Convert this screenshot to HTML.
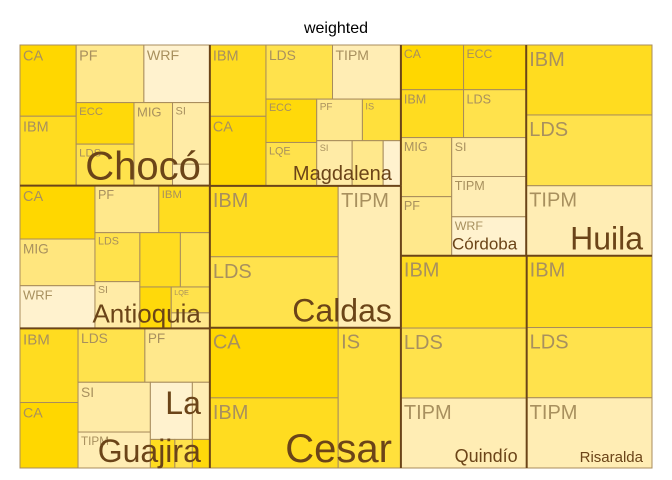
<!DOCTYPE html>
<html><head><meta charset="utf-8"><style>
html,body{margin:0;padding:0;background:#fff;}
svg{display:block;font-family:"Liberation Sans",sans-serif;}
</style></head><body>
<svg id="chart" width="672" height="480">
<text x="336" y="33" text-anchor="middle" font-size="16" fill="#000">weighted</text>
<g id="leaves"></g><g id="groups"></g><g id="glabels"></g>
</svg>
<script>
// group names (departments)
const groupNames = ["Chocó","Antioquia","La Guajira","Magdalena","Caldas","Cesar","Córdoba","Huila","Quindío","Risaralda"];
// leaf labels and values per group (values ~ weighted area)
const chocoLabels = ["CA","IBM","PF","WRF","ECC","LDS","MIG","SI",""];
const chocoValues = [40,39,39,38,24,24,32,23,8];
const antioquiaLabels = ["CA","MIG","WRF","PF","IBM","LDS","SI","","","","LQE",""];
const antioquiaValues = [40,35,32,30,24,22,21,22,16,13,10,6];
const guajiraLabels = ["IBM","CA","LDS","PF","SI","TIPM","","","","",""];
const guajiraValues = [43,38,36,35,36,26,24,10,7,5,5];
const magdalenaLabels = ["IBM","CA","LDS","TIPM","ECC","LQE","PF","IS","SI","",""];
const magdalenaValues = [40,39,36,37,22,22,19,16,16,14,8];
const caldasLabels = ["IBM","LDS","TIPM"];
const caldasValues = [91,91,89];
const cesarLabels = ["CA","IBM","IS"];
const cesarValues = [90,90,88];
const cordobaLabels = ["CA","IBM","ECC","LDS","MIG","PF","SI","TIPM","WRF"];
const cordobaValues = [28,30,28,30,30,30,29,30,29];
const huilaLabels = ["IBM","LDS","TIPM"];
const huilaValues = [88,89,88];
const quindioLabels = ["IBM","LDS","TIPM"];
const quindioValues = [91,88,88];
const risaraldaLabels = ["IBM","LDS","TIPM"];
const risaraldaValues = [90,88,88];

const catColor = {CA:"#FFD700",IBM:"#FFDC20",ECC:"#FFD90A",LDS:"#FFE24C",IS:"#FFE03C",LQE:"#FFE24C",
  MIG:"#FFE67E",PF:"#FFE88C",SI:"#FFEBA6",TIPM:"#FFEDB4",WRF:"#FFF2CE","":"#FFEBA6"};
const extraColor = ["#FFEDB4","#FFDC20","#FFE24C","#FFD90A","#FFE88C","#FFF2CE"];

function L(i){return {leaf:i};}
function H(...c){return {dir:"H",c};}
function V(...c){return {dir:"V",c};}
const structs = {
  "Chocó":[chocoLabels,chocoValues,H(V(L(0),L(1)),V(H(L(2),L(3)),H(V(L(4),L(5)),L(6),V(L(7),L(8)))))],
  "Antioquia":[antioquiaLabels,antioquiaValues,H(V(L(0),L(1),L(2)),V(H(L(3),L(4)),H(V(L(5),L(6)),V(H(L(7),L(8)),H(L(9),V(L(10),L(11)))))))],
  "La Guajira":[guajiraLabels,guajiraValues,H(V(L(0),L(1)),V(H(L(2),L(3)),H(V(L(4),L(5)),V(H(L(6),L(7)),H(L(8),L(9),L(10))))))],
  "Magdalena":[magdalenaLabels,magdalenaValues,H(V(L(0),L(1)),V(H(L(2),L(3)),H(V(L(4),L(5)),V(H(L(6),L(7)),H(L(8),L(9),L(10))))))],
  "Caldas":[caldasLabels,caldasValues,H(V(L(0),L(1)),L(2))],
  "Cesar":[cesarLabels,cesarValues,H(V(L(0),L(1)),L(2))],
  "Córdoba":[cordobaLabels,cordobaValues,V(H(V(L(0),L(1)),V(L(2),L(3))),H(V(L(4),L(5)),V(L(6),L(7),L(8))))],
  "Huila":[huilaLabels,huilaValues,V(L(0),L(1),L(2))],
  "Quindío":[quindioLabels,quindioValues,V(L(0),L(1),L(2))],
  "Risaralda":[risaraldaLabels,risaraldaValues,V(L(0),L(1),L(2))]
};
const rootTree = H(V({g:"Chocó"},{g:"Antioquia"},{g:"La Guajira"}),V({g:"Magdalena"},{g:"Caldas"},{g:"Cesar"}),
  V(H({g:"Córdoba"},{g:"Huila"}),H({g:"Quindío"},{g:"Risaralda"})));
const glabelSize = {"Chocó":40,"Antioquia":26,"La Guajira":32,"Magdalena":20,"Caldas":32,"Cesar":40,"Córdoba":17,"Huila":32,"Quindío":18,"Risaralda":15};

const NS="http://www.w3.org/2000/svg";
const X0=20,Y0=45,X1=652,Y1=468;
function sumNode(n,vals){
  if(n.leaf!==undefined) return vals[n.leaf];
  if(n.g) return structs[n.g][1].reduce((a,b)=>a+b,0);
  return n.c.reduce((a,ch)=>a+sumNode(ch,vals),0);
}
function layout(n,vals,x,y,w,h,cb){
  if(n.leaf!==undefined||n.g){cb(n,x,y,w,h);return;}
  const tot=sumNode(n,vals);let off=0;
  n.c.forEach(ch=>{const f=sumNode(ch,vals)/tot;
    if(n.dir==="H"){layout(ch,vals,x+off*w,y,f*w,h,cb);} else {layout(ch,vals,x,y+off*h,w,f*h,cb);}
    off+=f;});
}
const leavesG=document.getElementById("leaves"),groupsG=document.getElementById("groups"),glG=document.getElementById("glabels");
let ex=0;
function line(x1,y1,x2,y2){
  const l=document.createElementNS(NS,"line");
  l.setAttribute("x1",x1);l.setAttribute("y1",y1);l.setAttribute("x2",x2);l.setAttribute("y2",y2);
  l.setAttribute("stroke","#6B4418");l.setAttribute("stroke-width","2");
  
  
  groupsG.appendChild(l);
}
layout(rootTree,null,X0,Y0,X1-X0,Y1-Y0,(gn,gx,gy,gw,gh)=>{
  const name=gn.g;const [labs,vals,tree]=structs[name];
  layout(tree,vals,gx,gy,gw,gh,(ln,x,y,w,h)=>{
    const lab=labs[ln.leaf];
    const r=document.createElementNS(NS,"rect");
    r.setAttribute("x",x);r.setAttribute("y",y);r.setAttribute("width",w);r.setAttribute("height",h);
    r.setAttribute("fill",lab?catColor[lab]:extraColor[(ex++)%extraColor.length]);
    r.setAttribute("stroke","#A88C5C");r.setAttribute("stroke-width","1");
    
    
    leavesG.appendChild(r);
    if(lab){
      const fs=Math.max(6,Math.min(20,2.3*Math.sqrt(vals[ln.leaf])));
      const t=document.createElementNS(NS,"text");
      t.setAttribute("x",x+3);t.setAttribute("y",y+fs+1);t.setAttribute("font-size",fs.toFixed(1));
      t.setAttribute("fill","#A8905E");t.textContent=lab;
      
      
      leavesG.appendChild(t);
    }
  });
  if(gx+gw<X1-1) line(gx+gw,gy,gx+gw,gy+gh);
  if(gy+gh<Y1-1) line(gx,gy+gh,gx+gw,gy+gh);
  const fs=glabelSize[name];
  const words=name==="La Guajira"?["La","Guajira"]:[name];
  words.forEach((wd,i)=>{
    const t=document.createElementNS(NS,"text");
    t.setAttribute("x",gx+gw-9);
    t.setAttribute("y",gy+gh-6-(words.length-1-i)*fs*1.5);
    t.setAttribute("text-anchor","end");t.setAttribute("font-size",fs);t.setAttribute("fill","#6B4418");
    t.textContent=wd;
    
    
    glG.appendChild(t);
  });
});
</script>
</body></html>
